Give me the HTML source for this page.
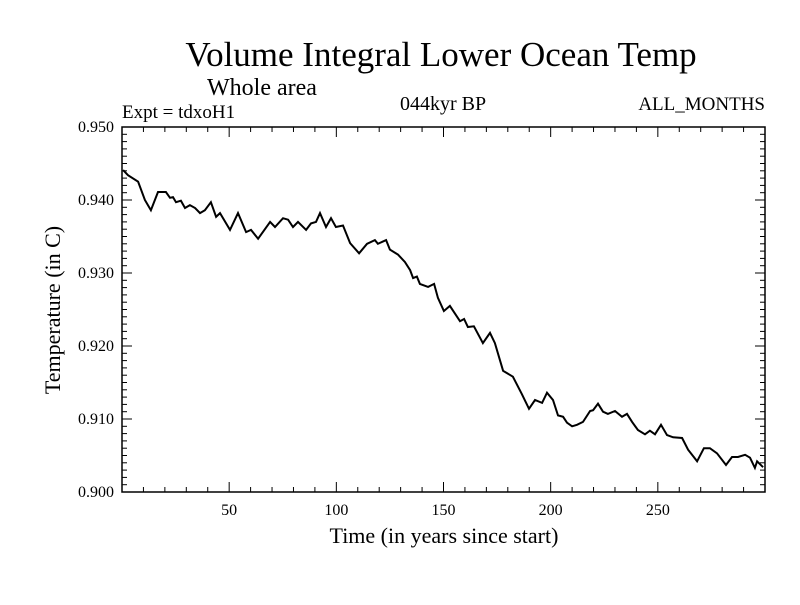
<!DOCTYPE html>
<html><head><meta charset="utf-8"><style>
body{margin:0;background:#fff;}
svg text{font-family:"Liberation Serif",serif;fill:#000;}
</style></head><body>
<svg id="chart" width="800" height="600" xmlns="http://www.w3.org/2000/svg">
<text x="441" y="66" font-size="35" text-anchor="middle">Volume Integral Lower Ocean Temp</text>
<text x="207" y="95" font-size="24">Whole area</text>
<text x="122" y="118" font-size="19">Expt = tdxoH1</text>
<text x="443" y="110" font-size="20" text-anchor="middle">044kyr BP</text>
<text x="765" y="110" font-size="19" text-anchor="end">ALL_MONTHS</text>
<rect x="122" y="127" width="643" height="365" fill="none" stroke="#000" stroke-width="1.5"/>
<g id="ticks"></g>
<path id="series" fill="none" stroke="#000" stroke-width="2"/>
<text x="444" y="543" font-size="22" text-anchor="middle">Time (in years since start)</text>
<text x="0" y="0" font-size="22" text-anchor="middle" transform="translate(60,310) rotate(-90)">Temperature (in C)</text>
</svg>
<script>
const years=[0.5,2.8,7.5,10.7,13.5,16.8,20.5,22.4,23.8,25.2,27.5,29.4,31.7,34.1,36.4,38.7,41.5,43.9,45.7,50.4,54.1,57.9,60.2,63.5,69.1,71.4,75.1,77.5,79.8,82.1,85.9,88.2,90.5,92.4,95.2,97.5,99.8,103.1,106.4,110.6,114.3,118.0,119.4,123.2,125.0,128.8,132.0,134.4,135.8,137.6,139.0,142.8,145.6,147.4,150.2,153.0,157.7,159.6,161.4,164.2,168.4,171.7,174.0,177.8,182.4,186.6,189.9,192.7,196.0,198.3,201.1,203.4,205.8,207.6,210.0,212.3,215.1,218.4,219.8,222.1,224.4,226.7,230.0,233.3,235.6,238.0,240.7,244.0,246.3,248.7,251.5,254.3,257.1,261.3,264.1,268.3,271.5,274.3,277.6,281.8,284.6,287.4,290.7,293.0,295.3,296.3,299.1];
const temps=[0.9441,0.9434,0.9425,0.9400,0.9386,0.9411,0.9411,0.9403,0.9404,0.9397,0.9399,0.9389,0.9393,0.9389,0.9382,0.9386,0.9397,0.9377,0.9382,0.9359,0.9382,0.9356,0.9359,0.9347,0.9370,0.9363,0.9375,0.9373,0.9363,0.9370,0.9359,0.9368,0.9370,0.9382,0.9363,0.9375,0.9363,0.9365,0.9341,0.9327,0.9340,0.9345,0.9340,0.9345,0.9332,0.9325,0.9315,0.9304,0.9293,0.9295,0.9285,0.9281,0.9285,0.9266,0.9248,0.9255,0.9234,0.9237,0.9226,0.9227,0.9204,0.9218,0.9204,0.9166,0.9158,0.9134,0.9114,0.9126,0.9122,0.9136,0.9126,0.9105,0.9103,0.9095,0.9090,0.9092,0.9096,0.9111,0.9112,0.9121,0.9110,0.9107,0.9111,0.9103,0.9107,0.9096,0.9085,0.9079,0.9084,0.9079,0.9092,0.9078,0.9075,0.9074,0.9058,0.9042,0.9060,0.9060,0.9053,0.9037,0.9048,0.9048,0.9051,0.9047,0.9033,0.9042,0.9034];
const xTicks=[50,100,150,200,250];
const yTicks=[0.900,0.910,0.920,0.930,0.940,0.950];
const X0=122,X1=765,Y0=492,Y1=127,XMIN=0,XMAX=300,YMIN=0.9,YMAX=0.95;
function xs(v){return X0+(v-XMIN)/(XMAX-XMIN)*(X1-X0);}
function ys(v){return Y0-(v-YMIN)/(YMAX-YMIN)*(Y0-Y1);}
const NS="http://www.w3.org/2000/svg";
const g=document.getElementById('ticks');
function line(x1,y1,x2,y2,name){const l=document.createElementNS(NS,'line');
l.setAttribute('x1',x1);l.setAttribute('y1',y1);l.setAttribute('x2',x2);l.setAttribute('y2',y2);
l.setAttribute('stroke','#000');l.setAttribute('stroke-width','1');


g.appendChild(l);}
for(let v=10;v<300;v+=10){const x=xs(v);const major=v%50===0;const L=major?10:5;
line(x,Y0,x,Y0-L,'x-tick');line(x,Y1,x,Y1+L,'x-tick');}
for(let i=0;i<=50;i++){const v=0.9+i*0.001;const y=ys(v);const major=i%10===0;const L=major?10:5;
line(X0,y,X0+L,y,'y-tick');line(X1,y,X1-L,y,'y-tick');}
xTicks.forEach(v=>{const t=document.createElementNS(NS,'text');t.setAttribute('x',xs(v));t.setAttribute('y',Y0+23);
t.setAttribute('font-size','16');t.setAttribute('text-anchor','middle');t.textContent=v;


g.appendChild(t);});
yTicks.forEach(v=>{const t=document.createElementNS(NS,'text');t.setAttribute('x',X0-8);t.setAttribute('y',ys(v)+5);
t.setAttribute('font-size','16');t.setAttribute('text-anchor','end');t.textContent=v.toFixed(3);


g.appendChild(t);});
document.getElementById('series').setAttribute('d',years.map((y,i)=>(i?'L':'M')+xs(y).toFixed(1)+','+ys(temps[i]).toFixed(1)).join(''));
</script>
</body></html>
